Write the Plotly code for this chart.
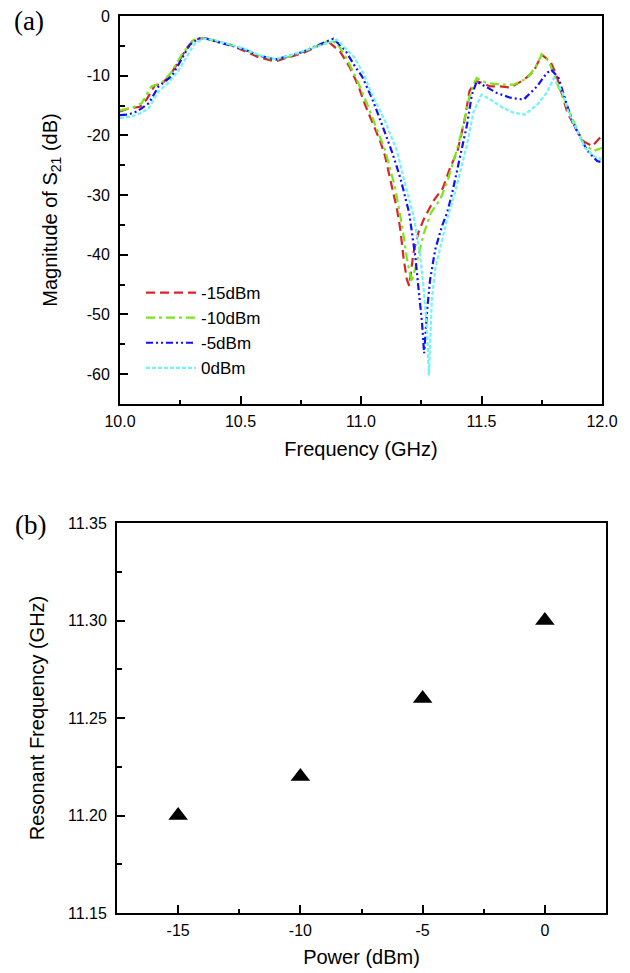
import plotly.graph_objects as go

# ---------------- data: panel (a) ----------------
f_m15 = [10.00, 10.035, 10.083, 10.11, 10.145, 10.173, 10.21, 10.25, 10.277, 10.305, 10.34, 10.38, 10.42,
         10.457, 10.51, 10.574, 10.644, 10.706, 10.76, 10.817, 10.865, 10.914, 10.955, 10.99, 11.017, 11.045,
         11.08, 11.10, 11.128, 11.15, 11.163, 11.177, 11.19, 11.20, 11.218, 11.238, 11.26, 11.30, 11.34,
         11.37, 11.40, 11.43, 11.45, 11.475, 11.495, 11.537, 11.578, 11.62, 11.675, 11.716, 11.75, 11.786,
         11.81, 11.834, 11.855, 11.89, 11.924, 11.96, 12.0]
s_m15 = [-16.0, -15.5, -15.2, -14.0, -11.6, -11.4, -9.8, -7.1, -5.4, -4.0, -3.7, -4.0, -4.5,
         -4.8, -5.7, -6.9, -7.6, -6.8, -6.2, -5.1, -4.3, -6.0, -8.7, -11.8, -14.9, -17.6,
         -21.0, -23.5, -28.8, -32.5, -35.7, -40.7, -44.1, -45.2, -39.6, -36.3, -34.1, -31.0, -28.8,
         -25.4, -22.7, -17.4, -12.6, -10.9, -11.1, -11.8, -11.8, -12.0, -10.7, -9.3, -6.5, -7.6,
         -9.8, -13.2, -16.0, -18.8, -21.0, -21.8, -20.0]

f_m10 = [10.00, 10.055, 10.09, 10.13, 10.173, 10.21, 10.256, 10.305, 10.34, 10.38, 10.42, 10.46, 10.51,
         10.574, 10.644, 10.706, 10.76, 10.82, 10.87, 10.90, 10.94, 10.98, 11.02, 11.06, 11.10, 11.14,
         11.17, 11.19, 11.21, 11.23, 11.26, 11.29, 11.33, 11.36, 11.40, 11.425, 11.45, 11.48, 11.52,
         11.578, 11.633, 11.69, 11.73, 11.75, 11.78, 11.81, 11.87, 11.924, 11.966, 12.0]
s_m10 = [-15.8, -15.3, -14.6, -11.8, -11.2, -9.6, -6.5, -4.0, -3.7, -4.0, -4.4, -4.9, -5.5,
         -6.6, -7.3, -6.8, -6.0, -5.0, -4.1, -4.5, -7.1, -10.4, -14.2, -18.5, -22.5, -28.5,
         -35.0, -40.5, -44.6, -41.5, -36.5, -33.0, -30.6, -27.5, -22.1, -18.2, -13.5, -10.4, -11.2,
         -11.5, -11.5, -10.4, -8.2, -6.4, -7.6, -11.0, -16.5, -21.5, -22.6, -22.1]

f_m5 = [10.00, 10.035, 10.07, 10.12, 10.16, 10.18, 10.215, 10.25, 10.29, 10.325, 10.36, 10.40, 10.45,
        10.51, 10.574, 10.644, 10.706, 10.76, 10.82, 10.885, 10.934, 10.976, 11.004, 11.045, 11.087,
        11.128, 11.163, 11.20, 11.225, 11.239, 11.253, 11.262, 11.275, 11.287, 11.308, 11.336, 11.357,
        11.377, 11.41, 11.44, 11.46, 11.48, 11.516, 11.564, 11.62, 11.675, 11.73, 11.77, 11.79, 11.82,
        11.85, 11.876, 11.91, 11.94, 11.98, 12.0]
s_m5 = [-16.6, -16.5, -16.0, -14.6, -11.8, -11.2, -10.1, -7.6, -4.8, -3.8, -3.8, -4.3, -4.8,
        -5.5, -6.6, -7.3, -6.6, -6.0, -4.9, -3.8, -5.7, -8.5, -10.1, -13.7, -18.2,
        -22.7, -27.1, -33.0, -40.2, -45.7, -51.3, -56.5, -49.0, -44.1, -39.1, -35.2, -33.0,
        -29.9, -23.8, -18.2, -13.2, -11.0, -11.8, -12.9, -13.7, -14.0, -11.8, -9.6, -9.0, -10.4,
        -14.3, -17.6, -20.4, -22.6, -24.3, -24.5]

f_0 = [10.00, 10.05, 10.09, 10.12, 10.16, 10.20, 10.24, 10.277, 10.31, 10.346, 10.39, 10.45, 10.51,
       10.574, 10.644, 10.706, 10.76, 10.82, 10.90, 10.97, 11.01, 11.04, 11.10, 11.15, 11.18, 11.218,
       11.246, 11.26, 11.274, 11.282, 11.294, 11.308, 11.33, 11.357, 11.39, 11.41, 11.44, 11.467,
       11.50, 11.537, 11.59, 11.633, 11.68, 11.73, 11.77, 11.80, 11.834, 11.86, 11.897, 11.93,
       11.966, 12.0]
s_0 = [-17.1, -16.8, -16.2, -15.4, -12.6, -11.2, -9.3, -6.8, -4.6, -3.8, -4.0, -4.7, -5.4,
       -6.5, -7.2, -6.6, -5.9, -5.0, -4.0, -6.8, -9.6, -12.6, -17.6, -22.7, -27.7, -33.5,
       -40.2, -45.7, -52.4, -60.2, -47.4, -42.4, -38.5, -34.1, -29.6, -26.5, -21.5, -16.0,
       -13.2, -14.0, -15.4, -16.2, -16.5, -14.9, -12.9, -10.4, -12.6, -16.0, -19.3, -22.1,
       -23.5, -24.0]

series_names = ["-15dBm", "-10dBm", "-5dBm", "0dBm"]

# tick labels
a_x_ticks = [10.0, 10.5, 11.0, 11.5, 12.0]
a_x_labels = ["10.0", "10.5", "11.0", "11.5", "12.0"]
a_y_ticks = [0, -10, -20, -30, -40, -50, -60]
a_y_labels = ["0", "-10", "-20", "-30", "-40", "-50", "-60"]

# ---------------- data: panel (b) ----------------
power_dbm = [-15, -10, -5, 0]
res_freq = [11.20, 11.22, 11.26, 11.30]
b_x_ticks = [-15, -10, -5, 0]
b_x_labels = ["-15", "-10", "-5", "0"]
b_y_ticks = [11.15, 11.20, 11.25, 11.30, 11.35]
b_y_labels = ["11.15", "11.20", "11.25", "11.30", "11.35"]

W, H = 630, 973
ML, MR, MT, MB = 117, 24, 16, 60
PW, PH = W - ML - MR, H - MT - MB


def px_x(x):
    return (x - ML) / PW


def px_y(y):
    return 1 - (y - MT) / PH


fig = go.Figure()

styles = [
    ("#d7262b", "9px,5px"),
    ("#77e81a", "9px,4px,3px,4px"),
    ("#1010ff", "7px,3px,2px,3px,2px,3px"),
    ("#6ff5f5", "4px,2px"),
]
data_a = [(f_m15, s_m15), (f_m10, s_m10), (f_m5, s_m5), (f_0, s_0)]
for (fx, sy), name, (col, dash) in zip(data_a, series_names, styles):
    fig.add_trace(go.Scatter(x=fx, y=sy, mode="lines", name=name,
                             line=dict(color=col, width=2.2, dash=dash),
                             xaxis="x", yaxis="y"))

fig.add_trace(go.Scatter(x=power_dbm, y=res_freq, mode="markers", showlegend=False,
                         marker=dict(symbol="triangle-up", size=17, color="black"),
                         xaxis="x2", yaxis="y2"))

font_family = "Liberation Sans, Arial, sans-serif"
axis_common = dict(showline=True, linecolor="black", linewidth=2, mirror=True,
                   ticks="inside", tickcolor="black", tickwidth=1.5, ticklen=8,
                   showgrid=False, zeroline=False, automargin=False,
                   tickfont=dict(family=font_family, size=16, color="black"),
                   title_font=dict(family=font_family, size=20, color="black"))
minor_common = dict(ticks="inside", tickcolor="black", tickwidth=1.5)

fig.update_layout(
    width=W, height=H,
    margin=dict(l=ML, r=MR, t=MT, b=MB),
    paper_bgcolor="white", plot_bgcolor="white",
    xaxis=dict(axis_common, domain=[px_x(120), px_x(602)], range=[10, 12],
               tickvals=a_x_ticks, ticktext=a_x_labels, anchor="y", ticklabelstandoff=2,
               minor=dict(minor_common, dtick=0.25, ticklen=4),
               title=dict(text="Frequency (GHz)", standoff=13)),
    yaxis=dict(axis_common, domain=[px_y(404), px_y(16)], range=[-65, 0],
               tickvals=a_y_ticks, ticktext=a_y_labels, anchor="x", ticklabelstandoff=5,
               minor=dict(minor_common, tickvals=[-5, -15, -25, -35, -45, -55], ticklen=5),
               title=dict(text="Magnitude of S<sub>21</sub> (dB)", standoff=24)),
    xaxis2=dict(axis_common, domain=[px_x(117), px_x(606)], range=[-17.5, 2.5],
                tickvals=b_x_ticks, ticktext=b_x_labels, anchor="y2", ticklabelstandoff=2,
                minor=dict(minor_common, tickvals=[-12.5, -7.5, -2.5], ticklen=4),
                title=dict(text="Power (dBm)", standoff=12)),
    yaxis2=dict(axis_common, domain=[px_y(913), px_y(523)], range=[11.15, 11.35],
                tickvals=b_y_ticks, ticktext=b_y_labels, anchor="x2", ticklabelstandoff=5,
                minor=dict(minor_common, dtick=0.025, ticklen=5),
                title=dict(text="Resonant Frequency (GHz)", standoff=18)),
    legend=dict(x=px_x(141), y=px_y(275), xanchor="left", yanchor="top",
                bgcolor="rgba(0,0,0,0)", borderwidth=0,
                font=dict(family=font_family, size=17, color="black"),
                itemwidth=50),
    showlegend=True,
    annotations=[
        dict(text="(a)", x=px_x(29), y=px_y(21), xref="paper", yref="paper", showarrow=False,
             xanchor="center", yanchor="middle",
             font=dict(family="Liberation Serif, Times New Roman, serif", size=27, color="black")),
        dict(text="(b)", x=px_x(30), y=px_y(525), xref="paper", yref="paper", showarrow=False,
             xanchor="center", yanchor="middle",
             font=dict(family="Liberation Serif, Times New Roman, serif", size=27, color="black")),
    ],
)

fig.write_html("out.html", config={"displayModeBar": False},
               post_script="document.body.style.margin='0';document.body.style.padding='0';")
